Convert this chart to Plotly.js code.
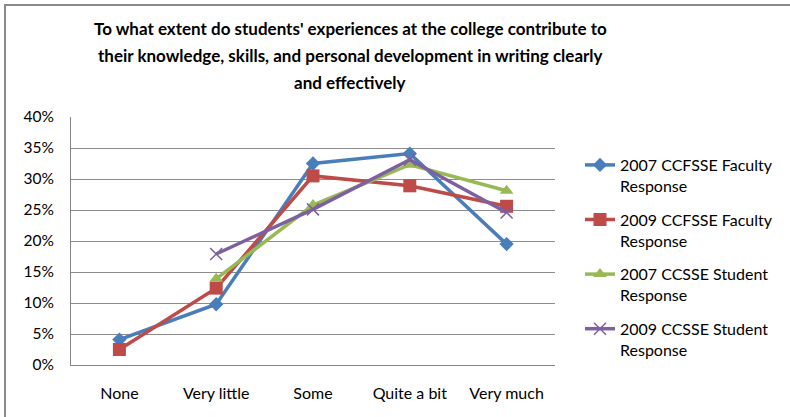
<!DOCTYPE html>
<html>
<head>
<meta charset="utf-8">
<script src="https://cdn.plot.ly/plotly-3.0.1.min.js"></script>
<style>
  html, body { margin: 0; padding: 0; background: #fff; }
  #wrap { position: absolute; left: 0; top: 0; width: 790px; height: 417px; overflow: hidden; }
  #frame { position: absolute; left: 4px; top: 4px; width: 800px; height: 430px; border-top: 2px solid #8a8a8a; border-left: 2px solid #8a8a8a; pointer-events: none; }
  #chart { position: absolute; left: 0; top: 0; width: 790px; height: 417px; }
</style>
</head>
<body>
<div id="wrap">
  <div id="chart"></div>
  <div id="frame"></div>
</div>
<script>
const categories = ["None", "Very little", "Some", "Quite a bit", "Very much"];
const seriesNames = ["2007 CCFSSE Faculty<br>Response", "2009 CCFSSE Faculty<br>Response", "2007 CCSSE Student<br>Response", "2009 CCSSE Student<br>Response"];
const faculty2007 = [0.041, 0.098, 0.325, 0.341, 0.195];
const faculty2009 = [0.025, 0.124, 0.305, 0.289, 0.256];
const student2007 = [null, 0.139, 0.258, 0.323, 0.281];
const student2009 = [null, 0.179, 0.251, 0.331, 0.246];
const titleLines = [
  "To what extent do students' experiences at the college contribute to",
  "their knowledge, skills, and personal development in writing clearly",
  "and effectively"
];

const FONT = "Lato, Carlito, 'Open Sans', sans-serif";
const colors = ["#4A7EBB", "#BE4B48", "#98B954", "#7D60A0"];
const symbols = ["diamond", "square", "triangle-up", "x-thin-open"];
const sizes = [11, 13, 12, 12];
const data = [faculty2007, faculty2009, student2007, student2009].map((vals, i) => ({
  type: "scatter",
  mode: "lines+markers",
  x: categories,
  y: vals,
  name: seriesNames[i],
  legendgroup: "g" + i,
  connectgaps: false,
  line: { color: colors[i], width: 3.5 },
  marker: { symbol: symbols[i], size: sizes[i], color: colors[i], line: { color: colors[i], width: i === 3 ? 1.5 : 0 } },
  hoverinfo: "x+y"
}));

// plot area: left 71, right 555, top 117, bottom 365
const PL = 71, PR = 555, PT = 117, PB = 365;
const titleYs = [28, 55, 82];
const annotations = titleLines.map((t, i) => ({
  text: "<b>" + t + "</b>",
  xref: "paper", yref: "paper",
  x: (350 - PL) / (PR - PL),
  y: (PB - titleYs[i]) / (PB - PT),
  xanchor: "center", yanchor: "middle",
  showarrow: false,
  font: { family: FONT, size: 17, color: "#000" }
}));

const layout = {
  width: 790, height: 417,
  margin: { l: PL, r: 790 - PR, t: PT, b: 417 - PB },
  paper_bgcolor: "#fff", plot_bgcolor: "#fff",
  font: { family: FONT, size: 15, color: "#000" },
  annotations: annotations,
  xaxis: {
    type: "category",
    range: [-0.5, 4.5],
    showgrid: false,
    showline: true, linecolor: "#868686", linewidth: 1,
    ticks: "", ticklabelstandoff: 14,
    tickfont: { family: FONT, size: 16, color: "#000" },
    fixedrange: true
  },
  yaxis: {
    range: [0, 0.4],
    dtick: 0.05,
    tickformat: ".0%",
    showgrid: true, gridcolor: "#8c8c8c", gridwidth: 1,
    showline: true, linecolor: "#868686", linewidth: 1,
    zeroline: false,
    ticks: "", ticklabelstandoff: 13,
    tickfont: { family: FONT, size: 15.5, color: "#000" },
    fixedrange: true
  },
  showlegend: true,
  legend: {
    x: 1 + 25 / (PR - PL), xanchor: "left", xref: "paper",
    y: (PB - 148) / (PB - PT), yanchor: "top",
    font: { family: FONT, size: 16, color: "#000" },
    valign: "top",
    traceorder: "grouped",
    tracegroupgap: 10,
    itemwidth: 30,
    bgcolor: "rgba(0,0,0,0)"
  }
};

Plotly.newPlot("chart", data, layout, { displayModeBar: false, staticPlot: true });
</script>
</body>
</html>
